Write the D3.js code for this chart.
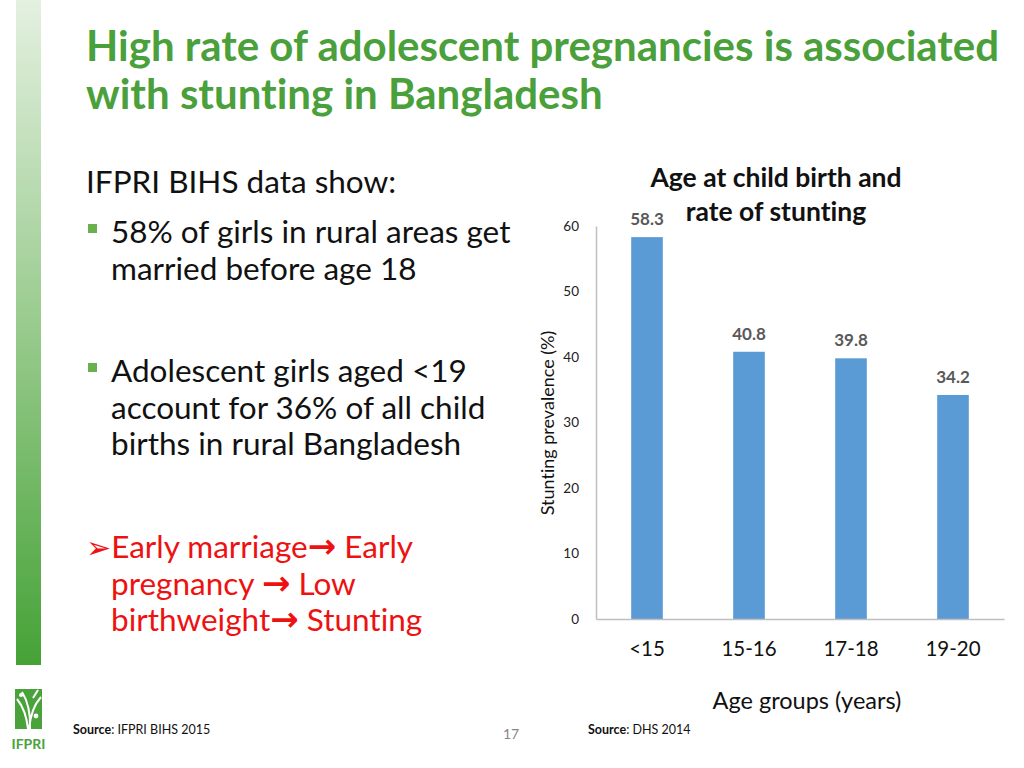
<!DOCTYPE html>
<html><head><meta charset="utf-8">
<script src="https://cdn.jsdelivr.net/npm/d3@7"></script>
<style>body{margin:0;background:#fff}svg{display:block}text{font-variant-ligatures:none}</style>
</head><body>
<script>
const categories = ["<15", "15-16", "17-18", "19-20"];
const values = [58.3, 40.8, 39.8, 34.2];
const yTicks = [0, 10, 20, 30, 40, 50, 60];

const W = 1024, H = 768;
const FONT = "Lato, 'Open Sans', sans-serif";
const svg = d3.select("body").append("svg").attr("width", W).attr("height", H);

// left gradient bar
const defs = svg.append("defs");
const g = defs.append("linearGradient").attr("id","lg").attr("x1",0).attr("y1",0).attr("x2",0).attr("y2",1);
g.append("stop").attr("offset","0%").attr("stop-color","#e4f0e0");
g.append("stop").attr("offset","50%").attr("stop-color","#97ca8c");
g.append("stop").attr("offset","100%").attr("stop-color","#45a236");
svg.append("rect").attr("x",16).attr("y",0).attr("width",25).attr("height",665).attr("fill","url(#lg)");

// logo
const logo = svg.append("g");
logo.append("rect").attr("x",15).attr("y",689).attr("width",27).attr("height",40).attr("fill","#4aa33a");
logo.append("path").attr("d","M17,699 Q26,710 28,729 M22,692 Q31,706 30,729 M41,697 Q31,708 29,729 M38,690 L33,698").attr("stroke","#fff").attr("stroke-width",2).attr("fill","none");
logo.append("circle").attr("cx",21).attr("cy",695).attr("r",2).attr("fill","#fff");
logo.append("circle").attr("cx",36).attr("cy",716).attr("r",2.4).attr("fill","#fff");
logo.append("text").attr("x",28.5).attr("y",749).attr("text-anchor","middle").attr("font-family",FONT).attr("font-size",14).attr("font-weight","bold").attr("fill","#4aa33a").text("IFPRI");

// title
const title = svg.append("text").attr("font-family",FONT).attr("font-weight","bold").attr("font-size",42).attr("fill","#4aa03a");
title.append("tspan").attr("x",86).attr("y",61).text("High rate of adolescent pregnancies is associated");
title.append("tspan").attr("x",86).attr("y",109).text("with stunting in Bangladesh");

// left text
const fs = 31.5;
svg.append("text").attr("x",86).attr("y",193).attr("font-family",FONT).attr("font-size",fs).attr("fill","#111").text("IFPRI BIHS data show:");
svg.append("rect").attr("x",88).attr("y",224).attr("width",9).attr("height",9).attr("fill","#6ab04c");
svg.append("rect").attr("x",88).attr("y",363).attr("width",9).attr("height",9).attr("fill","#6ab04c");
const addLines = (lines, x, y0, color) => {
  lines.forEach((l,i)=>svg.append("text").attr("x",x).attr("y",y0+i*36.5).attr("font-family",FONT).attr("font-size",fs).attr("fill",color).text(l));
};
addLines(["58% of girls in rural areas get","married before age 18"],111,243,"#111");
addLines(["Adolescent girls aged <19","account for 36% of all child","births in rural Bangladesh"],111,382,"#111");

// red lines with bold arrows
const redLines = [
  {x:86, parts:[["\u27A2",2],["Early marriage",0],["\u2192",1],[" Early",0]]},
  {x:111, parts:[["pregnancy ",0],["\u2192",1],[" Low",0]]},
  {x:111, parts:[["birthweight",0],["\u2192",1],[" Stunting",0]]}
];
redLines.forEach((ln,i)=>{
  const t = svg.append("text").attr("x",ln.x).attr("y",558+i*36.5).attr("font-family",FONT).attr("font-size",fs).attr("fill","#ee1111");
  ln.parts.forEach(p=>{
    const s = t.append("tspan").text(p[0]);
    if(p[1]===1) s.attr("font-family","'DejaVu Sans', sans-serif").attr("font-weight","bold").attr("font-size",34);
    if(p[1]===2) s.attr("font-family","'DejaVu Sans', sans-serif").attr("font-size",30).attr("dx",0);
  });
});

// chart
const x = d3.scaleBand().domain(categories).range([596,1004]).paddingInner(0.69).paddingOuter(0.345);
const y = d3.scaleLinear().domain([0,60]).range([619,226]);

svg.append("g").selectAll("rect").data(values).join("rect")
  .attr("x",(d,i)=>x(categories[i])).attr("y",d=>y(d)).attr("width",x.bandwidth()).attr("height",d=>y(0)-y(d)).attr("fill","#5b9bd5");

svg.append("g").selectAll("text").data(values).join("text")
  .attr("x",(d,i)=>x(categories[i])+x.bandwidth()/2).attr("y",d=>y(d)-12)
  .attr("text-anchor","middle").attr("font-family",FONT).attr("font-weight","bold").attr("font-size",17).attr("fill","#595959").text(d=>d.toFixed(1));

const yAxis = svg.append("g").attr("transform","translate(596,0)").call(d3.axisLeft(y).tickValues(yTicks).tickSize(0).tickPadding(17));
yAxis.select(".domain").attr("stroke","#bfbfbf").attr("stroke-width",1.5);
yAxis.selectAll("text").attr("font-family",FONT).attr("font-size",13.5).attr("fill","#222");

const xAxis = svg.append("g").attr("transform","translate(0,619)").call(d3.axisBottom(x).tickSize(0).tickPadding(22));
xAxis.select(".domain").attr("stroke","#bfbfbf").attr("stroke-width",1.5);
xAxis.selectAll("text").attr("font-family",FONT).attr("font-size",20.5).attr("fill","#111");

svg.append("text").attr("transform","translate(554,423) rotate(-90)").attr("text-anchor","middle").attr("font-family",FONT).attr("font-size",18).attr("fill","#111").text("Stunting prevalence (%)");
svg.append("text").attr("x",807).attr("y",709).attr("text-anchor","middle").attr("font-family",FONT).attr("font-size",23.5).attr("fill","#111").text("Age groups (years)");

const ct = svg.append("text").attr("text-anchor","middle").attr("font-family",FONT).attr("font-weight","bold").attr("font-size",26.5).attr("fill","#111");
ct.append("tspan").attr("x",776).attr("y",187).text("Age at child birth and");
ct.append("tspan").attr("x",776).attr("y",221).text("rate of stunting");

// footer
const src = (xx, yy, rest) => {
  const t = svg.append("text").attr("x",xx).attr("y",yy).attr("font-family",FONT).attr("font-size",12.5).attr("fill","#111");
  t.append("tspan").attr("font-weight","bold").text("Source");
  t.append("tspan").text(": " + rest);
};
src(73,734,"IFPRI BIHS 2015");
src(588,734,"DHS 2014");
svg.append("text").attr("x",511).attr("y",739).attr("text-anchor","middle").attr("font-family",FONT).attr("font-size",14).attr("fill","#888").text("17");
</script>
</body></html>
